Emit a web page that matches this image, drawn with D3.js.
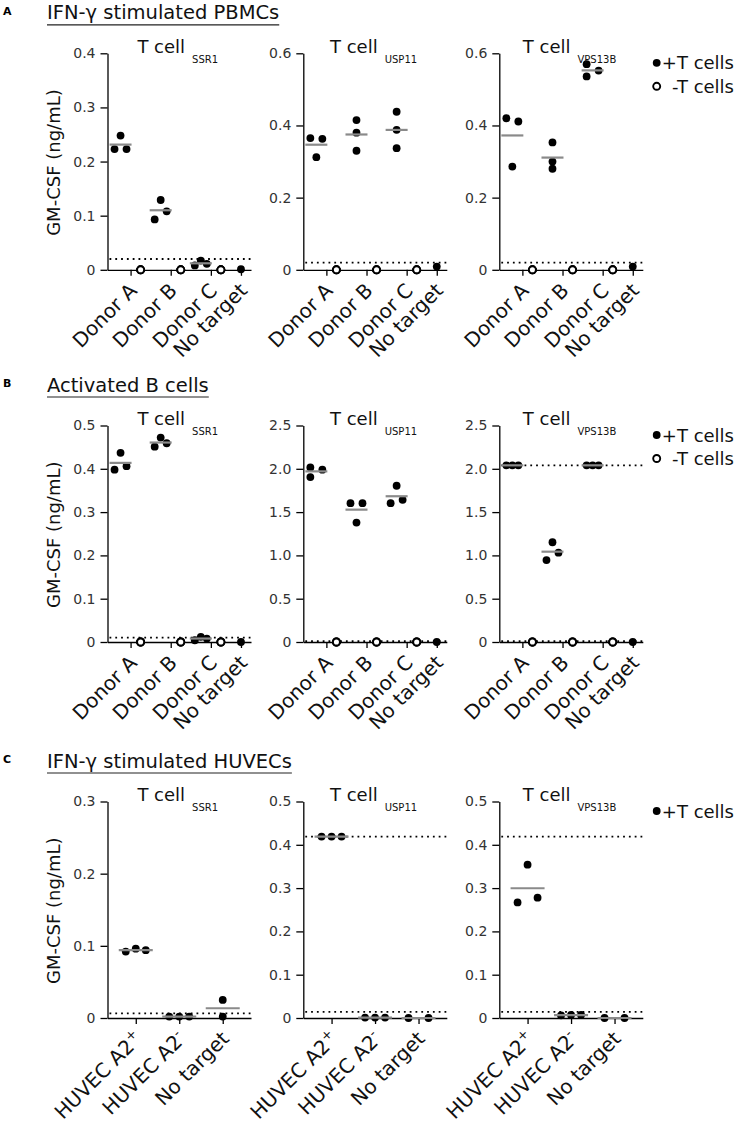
<!DOCTYPE html>
<html><head><meta charset="utf-8">
<script src="https://cdn.jsdelivr.net/npm/d3@7"></script>
<style>
body{margin:0;background:#fff}
svg{display:block}
text{font-family:"DejaVu Sans",sans-serif}
</style>
</head><body>
<svg id="chart" width="736" height="1127"></svg>
<script>
// ---------------- DATA ----------------
const rowTitles = ["IFN-γ stimulated PBMCs", "Activated B cells", "IFN-γ stimulated HUVECs"];
const rowLetters = ["A", "B", "C"];
const targetGenes = ["SSR1", "USP11", "VPS13B"];
const donorCategories = ["Donor A", "Donor B", "Donor C", "No target"];
const huvecCategories = ["HUVEC A2+", "HUVEC A2-", "No target"];
const legendLabels = ["+T cells", "-T cells"];
const yLabel = "GM-CSF (ng/mL)";

// y tick values per gene panel
const yTicksPBMC  = [[0, 0.1, 0.2, 0.3, 0.4], [0, 0.2, 0.4, 0.6], [0, 0.2, 0.4, 0.6]];
const yTicksBcell = [[0, 0.1, 0.2, 0.3, 0.4, 0.5], [0, 0.5, 1.0, 1.5, 2.0, 2.5], [0, 0.5, 1.0, 1.5, 2.0, 2.5]];
const yTicksHUVEC = [[0, 0.1, 0.2, 0.3], [0, 0.1, 0.2, 0.3, 0.4, 0.5], [0, 0.1, 0.2, 0.3, 0.4, 0.5]];

// +T cells replicates: [gene][category][replicate]
const pbmcPlusT = [
  [[0.223, 0.248, 0.223], [0.093, 0.129, 0.108], [0.008, 0.017, 0.011], [0.001]],
  [[0.365, 0.312, 0.363], [0.415, 0.380, 0.330], [0.438, 0.388, 0.337], [0.009]],
  [[0.420, 0.286, 0.411], [0.353, 0.300, 0.280], [0.570, 0.536, 0.552], [0.009]]
];
// -T cells replicates: [gene][donor][replicate]
const pbmcMinusT = [
  [[0, 0, 0], [0, 0, 0], [0, 0, 0]],
  [[0, 0, 0], [0, 0, 0], [0, 0, 0]],
  [[0, 0, 0], [0, 0, 0], [0, 0, 0]]
];
// scatter column of each replicate (-1 left, 0 centre, 1 right)
const pbmcJitter = [
  [[-1, 0, 1], [-1, 0, 1], [-1, 0, 1], [0]],
  [[-1, 0, 1], [0, 0, 0], [0, 0, 0], [0]],
  [[-1, 0, 1], [0, 0, 0], [-1, -1, 1], [0]]
];
const pbmcLimits = [[0.02], [0.02], [0.02]];

const bcellPlusT = [
  [[0.398, 0.437, 0.406], [0.451, 0.472, 0.459], [0.004, 0.012, 0.008], [0]],
  [[2.016, 1.905, 1.990], [1.603, 1.379, 1.603], [1.603, 1.804, 1.642], [0]],
  [[2.04, 2.04, 2.04], [0.946, 1.152, 1.031], [2.04, 2.04, 2.04], [0]]
];
const bcellMinusT = [
  [[0, 0, 0], [0, 0, 0], [0, 0, 0]],
  [[0, 0, 0], [0, 0, 0], [0, 0, 0]],
  [[0, 0, 0], [0, 0, 0], [0, 0, 0]]
];
const bcellJitter = [
  [[-1, 0, 1], [-1, 0, 1], [-1, 0, 1], [0]],
  [[-1, -1, 1], [-1, 0, 1], [-1, 0, 1], [0]],
  [[-1, 0, 1], [-1, 0, 1], [-1, 0, 1], [0]]
];
const bcellLimits = [[0.01], [0.01], [0.01, 2.04]];

const huvecPlusT = [
  [[0.092, 0.096, 0.094], [0.002, 0.002, 0.002], [0.025, 0.002]],
  [[0.419, 0.419, 0.419], [0.001, 0.001, 0.001], [0, 0]],
  [[0.267, 0.354, 0.278], [0.006, 0.007, 0.007], [0, 0]]
];
const huvecJitter = [
  [[-1, 0, 1], [-1, 0, 1], [0, 0]],
  [[-1, 0, 1], [-1, 0, 1], [-1, 1]],
  [[-1, 0, 1], [-1, 0, 1], [-1, 1]]
];
const huvecLimits = [[0.0065], [0.014, 0.419], [0.014, 0.419]];

// ---------------- LAYOUT ----------------
const svg = d3.select("#chart");
const colX = [107.5, 303.3, 499.3];
const plotW = 143.5;
const plotH = 216.5;
const rowTop = [53.3, 425.5, 801.5];

const rows = [
  {kind: "donor", plus: pbmcPlusT, minus: pbmcMinusT, jitter: pbmcJitter, limits: pbmcLimits, ticks: yTicksPBMC, cats: donorCategories, legend: legendLabels},
  {kind: "donor", plus: bcellPlusT, minus: bcellMinusT, jitter: bcellJitter, limits: bcellLimits, ticks: yTicksBcell, cats: donorCategories, legend: legendLabels},
  {kind: "huvec", plus: huvecPlusT, minus: null, jitter: huvecJitter, limits: huvecLimits, ticks: yTicksHUVEC, cats: huvecCategories, legend: legendLabels.slice(0, 1)}
];

const fmt = v => v === 0 ? "0" : d3.format(".1f")(v);
const R_FILL = 3.9, R_OPEN = 3.5;

rows.forEach((row, r) => {
  const top = rowTop[r];
  const bottom = top + plotH;

  svg.append("text").attr("x", 3).attr("y", top - 38.5)
    .attr("font-size", 11).attr("font-weight", "bold").text(rowLetters[r]);
  const title = svg.append("text").attr("x", 47).attr("y", top - 34)
    .attr("font-size", 19.5).attr("fill", "#111").text(rowTitles[r]);
  const tw = title.node().getComputedTextLength();
  svg.append("line").attr("x1", 47).attr("x2", 47 + tw)
    .attr("y1", top - 28.5).attr("y2", top - 28.5)
    .attr("stroke", "#222").attr("stroke-width", 1.2);

  targetGenes.forEach((gene, g) => {
    const x0 = colX[g];
    const ticks = row.ticks[g];
    const y = d3.scaleLinear().domain([0, d3.max(ticks)]).range([bottom, top]);
    const isDonor = row.kind === "donor";
    const x = isDonor
      ? d3.scaleLinear().domain([-0.65, 6.5]).range([x0, x0 + plotW])
      : d3.scaleLinear().domain([-0.65, 2.65]).range([x0, x0 + plotW]);
    const step = isDonor ? 6 : 10;        // px between scatter columns
    const halfMean = isDonor ? 11 : 17;   // half length of mean bar

    const plusPos = i => isDonor ? (i < 3 ? 2 * i : 6) : i;
    const minusPos = i => 2 * i + 1;
    const tickPos = i => isDonor ? (i < 3 ? 2 * i + 0.5 : 6) : i;

    const G = svg.append("g");

    // limit (dotted) lines
    G.selectAll("line.lim").data(row.limits[g]).join("line")
      .attr("x1", x0 + 2).attr("x2", x0 + plotW)
      .attr("y1", d => y(d)).attr("y2", d => y(d))
      .attr("stroke", "#000").attr("stroke-width", 1.8)
      .attr("stroke-dasharray", "1.8,4");

    // y axis
    const ya = G.append("g").attr("transform", `translate(${x0},0)`)
      .call(d3.axisLeft(y).tickValues(ticks).tickFormat(fmt).tickSize(7).tickSizeOuter(0).tickPadding(5));
    ya.select(".domain").attr("stroke", "#000").attr("stroke-width", 1.3);
    ya.selectAll(".tick line").attr("stroke", "#000").attr("stroke-width", 1.3);
    ya.selectAll(".tick text").attr("font-size", 14).attr("fill", "#333")
      .attr("font-family", "DejaVu Sans");

    // x axis
    const tickVals = row.cats.map((c, i) => tickPos(i));
    const xa = G.append("g").attr("transform", `translate(0,${bottom})`)
      .call(d3.axisBottom(x).tickValues(tickVals).tickFormat("").tickSize(6).tickSizeOuter(0));
    xa.select(".domain").attr("stroke", "#000").attr("stroke-width", 1.3);
    xa.selectAll(".tick line").attr("stroke", "#000").attr("stroke-width", 1.3);
    xa.selectAll(".tick").each(function(v, i) {
      const label = row.cats[i];
      const t = d3.select(this).select("text")
        .attr("y", null).attr("dy", null).attr("x", null)
        .attr("text-anchor", "end").attr("font-size", 20).attr("fill", "#111")
        .attr("font-family", "DejaVu Sans")
        .attr("transform", "translate(7,22) rotate(-45)")
        .text(null);
      const m = label.match(/^(.*A2)([+-])$/);
      if (m) {
        t.append("tspan").text(m[1]);
        t.append("tspan").attr("font-size", 13).attr("dy", -8).text(m[2]);
      } else {
        t.text(label);
      }
    });

    // +T cells points
    const plusPts = [];
    const means = [];
    row.plus[g].forEach((vals, i) => {
      const cx = x(plusPos(i));
      vals.forEach((v, k) => plusPts.push({cx: cx + row.jitter[g][i][k] * step, v}));
      if (vals.length > 1) means.push({cx, m: d3.mean(vals)});
    });
    G.selectAll("circle.plus").data(plusPts).join("circle")
      .attr("cx", d => d.cx).attr("cy", d => y(d.v)).attr("r", R_FILL).attr("fill", "#000");

    // mean bars
    G.selectAll("line.mean").data(means).join("line")
      .attr("x1", d => d.cx - halfMean).attr("x2", d => d.cx + halfMean)
      .attr("y1", d => y(d.m)).attr("y2", d => y(d.m))
      .attr("stroke", "#8a8a8a").attr("stroke-width", 2.2);

    // -T cells points
    if (row.minus) {
      const minusPts = [];
      row.minus[g].forEach((vals, i) => vals.forEach(v => minusPts.push({cx: x(minusPos(i)), v})));
      G.selectAll("circle.minus").data(minusPts).join("circle")
        .attr("cx", d => d.cx).attr("cy", d => y(d.v)).attr("r", R_OPEN)
        .attr("fill", "#fff").attr("stroke", "#000").attr("stroke-width", 1.9);
    }

    // subplot title
    const st = G.append("text").attr("x", x0 + plotW / 2 - 1.5).attr("y", top - 0.7)
      .attr("text-anchor", "middle").attr("fill", "#111");
    st.append("tspan").attr("font-size", 18).text("T cell");
    st.append("tspan").attr("font-size", 10).attr("dx", 7).attr("dy", 10).text(gene);

    // y label
    if (g === 0) {
      svg.append("text")
        .attr("transform", `translate(60,${(top + bottom) / 2 + 1}) rotate(-90)`)
        .attr("text-anchor", "middle").attr("font-size", 18).attr("fill", "#111")
        .text(yLabel);
    }
  });

  // legend
  const lg = svg.append("g");
  row.legend.forEach((lab, i) => {
    const ly = top + 9.5 + i * 23.5;
    if (i === 0) {
      lg.append("circle").attr("cx", 656.7).attr("cy", ly).attr("r", R_FILL).attr("fill", "#000");
    } else {
      lg.append("circle").attr("cx", 656.7).attr("cy", ly).attr("r", R_OPEN)
        .attr("fill", "#fff").attr("stroke", "#000").attr("stroke-width", 1.9);
    }
    lg.append("text").attr("x", 734).attr("y", ly + 6.5).attr("text-anchor", "end")
      .attr("font-size", 18).attr("fill", "#111").text(lab);
  });
});
</script>
</body></html>
